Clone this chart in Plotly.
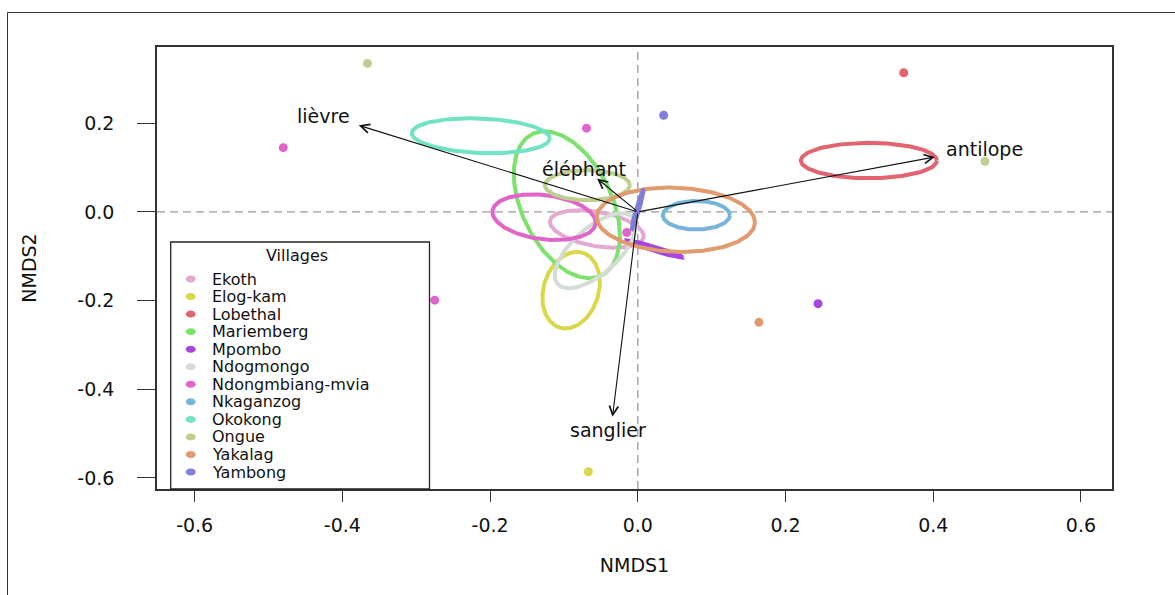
import numpy as np
import plotly.graph_objects as go

# ---------------- data ----------------
villages = ["Ekoth", "Elog-kam", "Lobethal", "Mariemberg", "Mpombo", "Ndogmongo",
            "Ndongmbiang-mvia", "Nkaganzog", "Okokong", "Ongue", "Yakalag", "Yambong"]
colors = ["#E2A9D2", "#D8D84A", "#E3636E", "#7CE26B", "#A745E3", "#D3DDD5",
          "#E165C9", "#77B4DA", "#72E2C4", "#BECF8F", "#E19B6E", "#7F7FDA"]

# individual site scores shown as points
pt_village = ["Ongue", "Lobethal", "Yambong", "Ndongmbiang-mvia", "Ndongmbiang-mvia", "Ongue",
              "Ndongmbiang-mvia", "Ndongmbiang-mvia", "Mpombo", "Yakalag", "Elog-kam"]
pt_x = [-0.366, 0.360, 0.035, -0.480, -0.0695, 0.470, -0.275, -0.015, 0.244, 0.164, -0.067]
pt_y = [0.335, 0.314, 0.218, 0.145, 0.189, 0.114, -0.199, -0.0465, -0.207, -0.249, -0.586]

# ellipse (ordiellipse) summaries per village: centre, sd along axes, correlation
ell_cx = [-0.0555, -0.0903, 0.3128, -0.0961, 0.0230, -0.0576, -0.1269, 0.0792, -0.2126, -0.0684, 0.0515, -0.0003]
ell_cy = [-0.0386, -0.1765, 0.1159, 0.0162, -0.0837, -0.0875, -0.0120, -0.0075, 0.1718, 0.0602, -0.0176, 0.0050]
ell_sx = [0.0636, 0.0389, 0.0921, 0.0718, 0.0383, 0.0548, 0.0700, 0.0454, 0.0934, 0.0575, 0.1070, 0.0084]
ell_sy = [0.0424, 0.0864, 0.0399, 0.1657, 0.0199, 0.0846, 0.0515, 0.0322, 0.0395, 0.0338, 0.0726, 0.0462]
ell_r = [-0.38, 0.20, 0.0, -0.42, -0.97, 0.65, -0.23, 0.0, -0.15, 0.0, -0.08, 0.97]

# envfit vectors
vec_names = ["lièvre", "antilope", "éléphant", "sanglier"]
vec_x = [-0.3778, 0.4022, -0.0551, -0.0343]
vec_y = [0.1953, 0.1240, 0.0753, -0.4622]

x_ticks = [-0.6, -0.4, -0.2, 0.0, 0.2, 0.4, 0.6]
x_ticktext = ["-0.6", "-0.4", "-0.2", "0.0", "0.2", "0.4", "0.6"]
y_ticks = [-0.6, -0.4, -0.2, 0.0, 0.2]
y_ticktext = ["-0.6", "-0.4", "-0.2", "0.0", "0.2"]

# ---------------- figure ----------------
FONT = "DejaVu Sans"
TXT = "#111111"
col_of = dict(zip(villages, colors))

fig = go.Figure()

# points
fig.add_trace(go.Scatter(
    x=pt_x, y=pt_y, mode="markers",
    marker=dict(size=9, color=[col_of[v] for v in pt_village], line=dict(width=0)),
    hoverinfo="skip", showlegend=False))

# ellipses
t = np.linspace(0, 2 * np.pi, 200)
for i, v in enumerate(villages):
    sx, sy, r = ell_sx[i], ell_sy[i], ell_r[i]
    ex = ell_cx[i] + sx * np.cos(t)
    ey = ell_cy[i] + sy * (r * np.cos(t) + np.sqrt(1 - r * r) * np.sin(t))
    fig.add_trace(go.Scatter(x=ex, y=ey, mode="lines",
                             line=dict(color=colors[i], width=4),
                             name=v, hoverinfo="skip", showlegend=False))

annotations = []
# arrows
label_shift = {"lièvre": (-35, 9), "antilope": (50, 8), "éléphant": (-13, 10), "sanglier": (-4, -13)}
for n, vx, vy in zip(vec_names, vec_x, vec_y):
    annotations.append(dict(x=vx, y=vy, ax=0, ay=0, xref="x", yref="y", axref="x", ayref="y",
                            text="", showarrow=True, arrowhead=5, arrowsize=1.6,
                            arrowwidth=1.1, arrowcolor="#111111", standoff=0, startstandoff=0))
    dx, dy = label_shift[n]
    annotations.append(dict(x=vx, y=vy, xref="x", yref="y", text=n, showarrow=False,
                            xshift=dx, yshift=dy, font=dict(family=FONT, size=19, color=TXT)))

# plot-area geometry in pixels
L, R, T, B = 157, 1112, 47, 489
W, H = R - L, B - T
def px(xp):
    return (xp - L) / W
def py(yp):
    return (B - yp) / H

shapes = []
# zero lines
shapes.append(dict(type="line", xref="x", yref="paper", x0=0, x1=0, y0=0, y1=1,
                   line=dict(color="#9a9a9a", width=1.3, dash="8px,5px"), layer="below"))
shapes.append(dict(type="line", xref="paper", yref="y", x0=0, x1=1, y0=0, y1=0,
                   line=dict(color="#9a9a9a", width=1.3, dash="8px,5px"), layer="below"))
# outer frame (left and top edges)
shapes.append(dict(type="line", xref="paper", yref="paper", x0=px(7.5), x1=px(7.5), y0=py(12.5), y1=py(620),
                   line=dict(color="#333333", width=1)))
shapes.append(dict(type="line", xref="paper", yref="paper", x0=px(7.5), x1=px(1200), y0=py(12.5), y1=py(12.5),
                   line=dict(color="#333333", width=1)))

# manual legend
shapes.append(dict(type="rect", xref="paper", yref="paper", x0=px(170.7), x1=px(429.5), y0=py(489), y1=py(242),
                   line=dict(color="#222222", width=1.3), fillcolor="white", layer="above"))
annotations.append(dict(xref="paper", yref="paper", x=px(297), y=py(255), text="Villages", showarrow=False,
                        xanchor="center", yanchor="middle", borderpad=0,
                        font=dict(family=FONT, size=16, color=TXT)))
for i, v in enumerate(villages):
    yy = 279 + i * 17.55
    shapes.append(dict(type="circle", xref="paper", yref="paper", xsizemode="pixel", ysizemode="pixel",
                       xanchor=px(190.7), yanchor=py(yy), x0=-5, x1=5, y0=-3.5, y1=3.5,
                       fillcolor=colors[i], line=dict(width=0), layer="above"))
    annotations.append(dict(xref="paper", yref="paper", x=px(211), y=py(yy), text=v, showarrow=False,
                            xanchor="left", yanchor="middle", borderpad=0,
                            font=dict(family=FONT, size=16, color=TXT)))

axis_common = dict(showgrid=False, zeroline=False, showline=True, mirror=True,
                   linecolor="#333333", linewidth=1.5, ticks="outside", tickcolor="#333333",
                   tickwidth=1.3, tickfont=dict(family=FONT, size=19, color=TXT))

fig.update_layout(
    width=1175, height=595,
    margin=dict(l=L, r=1175 - R, t=T, b=595 - B, autoexpand=False),
    paper_bgcolor="white", plot_bgcolor="white",
    xaxis=dict(range=[-0.651, 0.642], tickvals=x_ticks, ticktext=x_ticktext, ticklen=11,
               ticklabelstandoff=7,
               title=dict(text="NMDS1", font=dict(family=FONT, size=19, color=TXT), standoff=24),
               **axis_common),
    yaxis=dict(range=[-0.625, 0.372], tickvals=y_ticks, ticktext=y_ticktext, ticklen=18,
               ticklabelstandoff=19,
               title=dict(text="NMDS2", font=dict(family=FONT, size=19, color=TXT), standoff=36),
               **axis_common),
    shapes=shapes, annotations=annotations, showlegend=False,
)

fig.write_html("out.html", config={"displayModeBar": False},
               post_script="document.body.style.margin='0px';document.body.style.overflow='hidden';")
